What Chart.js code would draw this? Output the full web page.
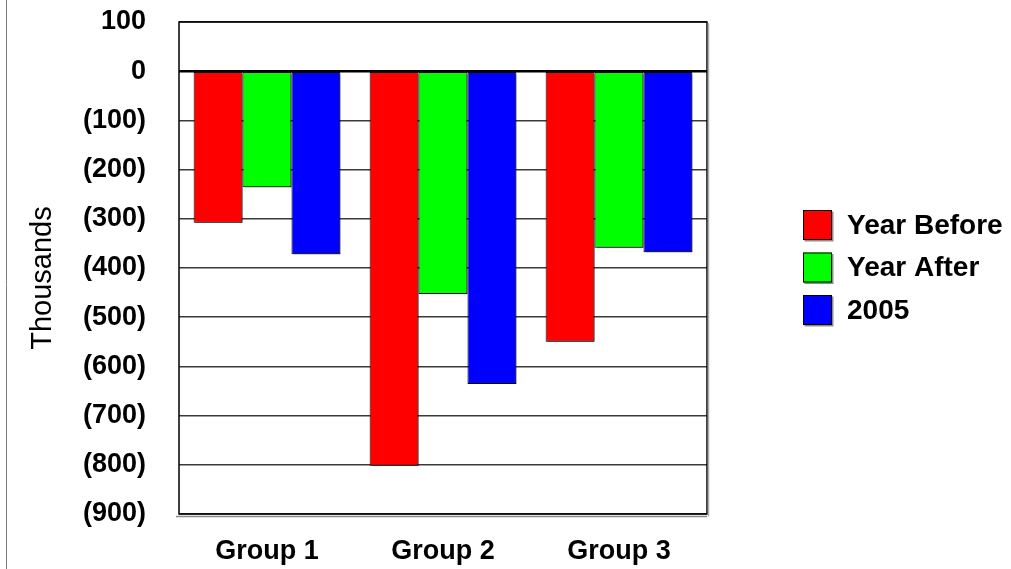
<!DOCTYPE html>
<html>
<head>
<meta charset="utf-8">
<script src="https://cdn.jsdelivr.net/npm/chart.js@4/dist/chart.umd.min.js"></script>
<style>
  html, body { margin: 0; padding: 0; background: #fff; }
  canvas { display: block; }
</style>
</head>
<body>
<canvas id="chart" width="1011" height="569"></canvas>
<script>
// Categories and series (values in thousands)
const categories = ['Group 1', 'Group 2', 'Group 3'];
const seriesNames = ['Year Before', 'Year After', '2005'];
const yearBefore = [-308, -802, -550];
const yearAfter = [-236, -453, -359];
const year2005 = [-372, -636, -368];
const seriesColors = ['#ff0000', '#00ff00', '#0000ff'];

// Value axis ticks and their printed labels
const yTickValues = [100, 0, -100, -200, -300, -400, -500, -600, -700, -800, -900];
const yTickLabels = ['100', '0', '(100)', '(200)', '(300)', '(400)', '(500)', '(600)', '(700)', '(800)', '(900)'];
const yTitle = 'Thousands';

const FONT = "'Liberation Sans', Arial, sans-serif";

const seriesValues = [yearBefore, yearAfter, year2005];

const paperPlugin = {
  id: 'paper',
  beforeDraw(chart) {
    const ctx = chart.ctx;
    ctx.save();
    ctx.fillStyle = '#fff';
    ctx.fillRect(0, 0, chart.width, chart.height);
    // thin rule along the left edge of the page
    ctx.strokeStyle = '#808080';
    ctx.lineWidth = 1;
    ctx.beginPath();
    ctx.moveTo(6.5, 0);
    ctx.lineTo(6.5, chart.height);
    ctx.stroke();
    ctx.restore();
  },
  beforeDatasetsDraw(chart) {
    const ctx = chart.ctx;
    ctx.save();
    ctx.shadowColor = 'rgba(0,0,0,0.45)';
    ctx.shadowOffsetX = 2;
    ctx.shadowOffsetY = 2;
    ctx.shadowBlur = 0;
  },
  afterDatasetsDraw(chart) {
    chart.ctx.restore();
    const ctx = chart.ctx;
    const a = chart.chartArea;
    ctx.save();
    // plot frame
    ctx.strokeStyle = '#000';
    ctx.lineWidth = 1.5;
    ctx.strokeRect(a.left, a.top, a.right - a.left, a.bottom - a.top);
    // floor edge under the plot
    ctx.strokeStyle = '#8a8a8a';
    ctx.lineWidth = 1.5;
    ctx.beginPath();
    ctx.moveTo(a.left - 3, a.bottom + 2.5);
    ctx.lineTo(a.right, a.bottom + 2.5);
    ctx.stroke();
    ctx.strokeStyle = '#b0b0b0';
    ctx.beginPath();
    ctx.moveTo(a.right + 1.5, a.top + 1);
    ctx.lineTo(a.right + 1.5, a.bottom + 2.5);
    ctx.stroke();
    // zero line
    const y0 = chart.scales.y.getPixelForValue(0);
    ctx.strokeStyle = '#000';
    ctx.lineWidth = 2.5;
    ctx.beginPath();
    ctx.moveTo(a.left, y0);
    ctx.lineTo(a.right, y0);
    ctx.stroke();
    ctx.restore();
  },
  afterDraw(chart) {
    const ctx = chart.ctx;
    ctx.save();
    // axis title
    ctx.translate(43, 278);
    ctx.rotate(-Math.PI / 2);
    ctx.font = '29px ' + FONT;
    ctx.fillStyle = '#000';
    ctx.textAlign = 'center';
    ctx.textBaseline = 'middle';
    ctx.fillText(yTitle, 0, 0);
    ctx.restore();

    // legend
    ctx.save();
    chart.data.datasets.forEach((ds, i) => {
      const bx = 803, by = 210 + i * 42.5, bw = 29, bh = 30;
      ctx.save();
      ctx.shadowColor = 'rgba(0,0,0,0.45)';
      ctx.shadowOffsetX = 1.5;
      ctx.shadowOffsetY = 1.5;
      ctx.fillStyle = ds.backgroundColor;
      ctx.fillRect(bx, by, bw, bh);
      ctx.restore();
      ctx.strokeStyle = '#000';
      ctx.lineWidth = 1;
      ctx.strokeRect(bx + 0.5, by + 0.5, bw - 1, bh - 1);
      ctx.font = 'bold 28px ' + FONT;
      ctx.fillStyle = '#000';
      ctx.textAlign = 'left';
      ctx.textBaseline = 'middle';
      ctx.fillText(ds.label, 847, by + bh / 2 + 1);
    });
    ctx.restore();
  }
};

new Chart(document.getElementById('chart'), {
  type: 'bar',
  data: {
    labels: categories,
    datasets: seriesNames.map((name, i) => ({
      label: name,
      data: seriesValues[i],
      backgroundColor: seriesColors[i],
      borderColor: '#000',
      borderWidth: 1,
      borderSkipped: false,
      categoryPercentage: 0.834,
      barPercentage: 1.0
    }))
  },
  options: {
    responsive: false,
    animation: false,
    devicePixelRatio: 1,
    layout: { padding: { left: 0, top: 22, right: 304, bottom: 0 } },
    plugins: {
      legend: { display: false },
      tooltip: { enabled: false }
    },
    scales: {
      x: {
        afterFit(scale) {
          scale.height = 55;
          scale.paddingLeft = 0;
          scale.paddingRight = 0;
        },
        grid: { display: false, drawTicks: false },
        border: { display: false },
        ticks: {
          padding: 21,
          color: '#000',
          font: { family: FONT, size: 27, weight: 'bold' }
        }
      },
      y: {
        min: -900,
        max: 100,
        afterFit(scale) {
          scale.width = 179;
          scale.paddingTop = 0;
          scale.paddingBottom = 0;
        },
        afterBuildTicks(scale) {
          scale.ticks = yTickValues.slice().reverse().map(v => ({ value: v }));
        },
        grid: {
          drawTicks: false,
          color: '#3a3a3a',
          lineWidth: 1.5
        },
        border: { display: false },
        ticks: {
          padding: 33,
          color: '#000',
          font: { family: FONT, size: 27, weight: 'bold' },
          callback(value) {
            const i = yTickValues.indexOf(value);
            return i >= 0 ? yTickLabels[i] : '';
          }
        }
      }
    }
  },
  plugins: [paperPlugin]
});
</script>
</body>
</html>
